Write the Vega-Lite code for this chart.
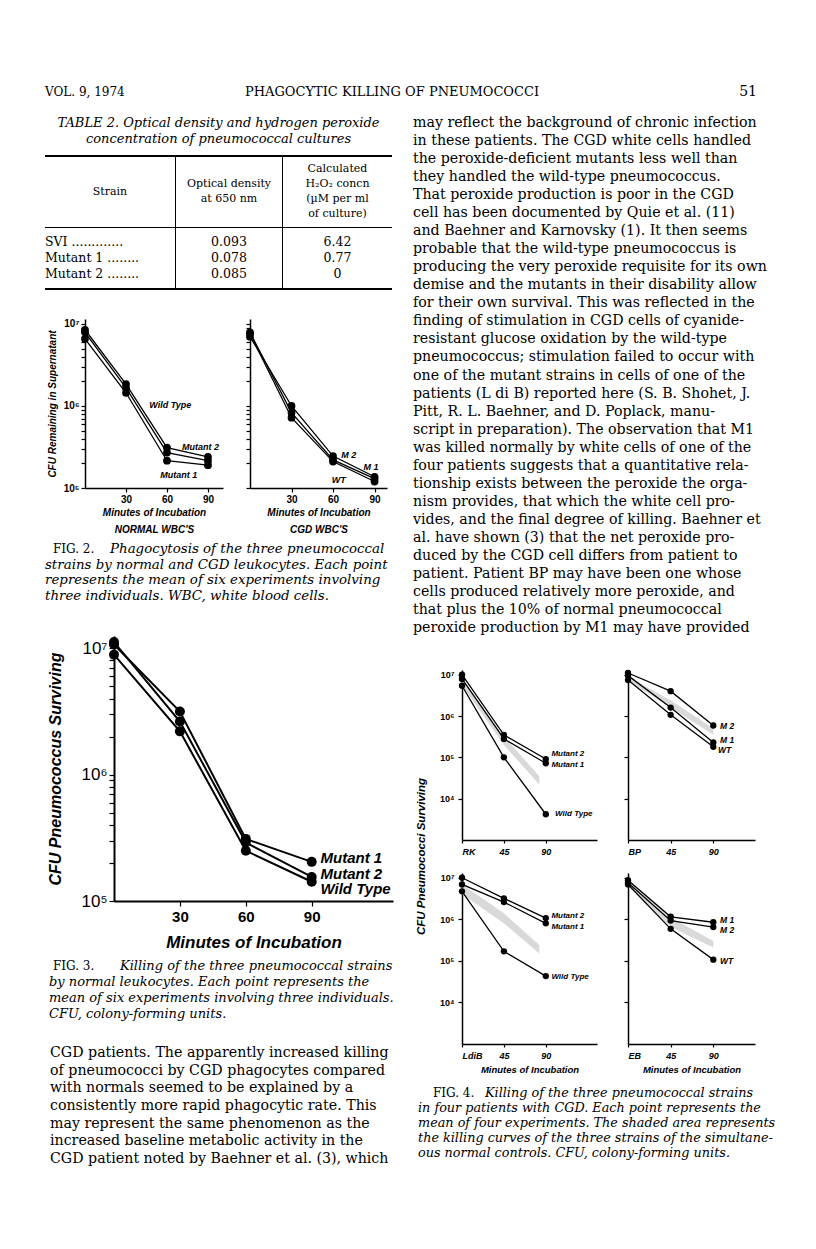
{
"$schema": "https://vega.github.io/schema/vega-lite/v6.json",
"padding": 0,
"background": "white",
"data": {"values": [{}]},
"config": {
  "view": {"stroke": null},
  "concat": {"spacing": 0},
  "axis": {"domainColor": "black", "tickColor": "black", "labelColor": "black", "titleColor": "black", "grid": false, "labelFont": "Liberation Sans", "titleFont": "Liberation Sans", "labelFontWeight": "bold", "titleFontWeight": "bold", "titleFontStyle": "italic", "domainWidth": 1.5, "tickWidth": 1.2, "labelFlush": false, "labelOverlap": false},
  "text": {"color": "black"}
},
"spacing": 0,
"vconcat": [
  {"hconcat": [
    {"width": 45, "height": 100, "data": {"values": []}, "mark": "point"},
    {"width": 200, "height": 96, "mark": {"type": "text", "text": "VOL. 9, 1974", "x": 0, "y": "height", "align": "left", "baseline": "alphabetic", "font": "DejaVu Serif", "fontSize": 12}},
    {"width": 168, "height": 96, "mark": {"type": "text", "text": "PHAGOCYTIC KILLING OF PNEUMOCOCCI", "x": 0, "y": "height", "align": "left", "baseline": "alphabetic", "font": "DejaVu Serif", "fontSize": 13}},
    {"width": 344, "height": 96, "mark": {"type": "text", "text": "51", "x": "width", "y": "height", "align": "right", "baseline": "alphabetic", "font": "DejaVu Serif", "fontSize": 14}}
  ], "spacing": 0, "bounds": "flush"},
  {"hconcat": [
    {"vconcat": [
      {"width": 413, "height": 15, "data": {"values": []}, "mark": "point"},
      {"hconcat": [
        {"width": 45, "height": 32, "data": {"values": []}, "mark": "point"},
        {"width": 347, "height": 32, "data": {"values": [{"i": 1, "s": "TABLE 2. Optical density and hydrogen peroxide"}, {"i": 2, "s": "concentration of pneumococcal cultures"}]},
         "mark": {"type": "text", "baseline": "middle", "align": "center", "font": "DejaVu Serif", "fontStyle": "italic", "fontSize": 13},
         "encoding": {"y": {"field": "i", "type": "ordinal", "axis": null, "scale": {"type": "point", "padding": 0.5}}, "text": {"field": "s"}}},
        {"width": 21, "height": 32, "data": {"values": []}, "mark": "point"}
      ], "spacing": 0, "bounds": "flush"},
      {"width": 413, "height": 8, "data": {"values": []}, "mark": "point"},
      {"hconcat": [
        {"width": 45, "height": 2, "data": {"values": []}, "mark": "point"},
        {"width": 347, "height": 2, "data": {"values": []}, "mark": "point", "view": {"fill": "black", "stroke": null}},
        {"width": 21, "height": 2, "data": {"values": []}, "mark": "point"}
      ], "spacing": 0, "bounds": "flush"},
      {"hconcat": [
        {"width": 45, "height": 70, "data": {"values": []}, "mark": "point"},
        {"width": 130, "height": 70, "mark": {"type": "text", "text": "Strain", "baseline": "middle", "align": "center", "font": "DejaVu Serif", "fontSize": 11}},
        {"width": 1, "height": 70, "data": {"values": []}, "mark": "point", "view": {"fill": "black", "stroke": null}},
        {"width": 106, "height": 70, "data": {"values": [{"i": 1, "s": "Optical density"}, {"i": 2, "s": "at 650 nm"}]},
         "mark": {"type": "text", "baseline": "middle", "align": "center", "font": "DejaVu Serif", "fontSize": 11},
         "encoding": {"y": {"field": "i", "type": "quantitative", "axis": null, "scale": {"domain": [-0.8, 3.87], "reverse": true, "nice": false, "zero": false}}, "text": {"field": "s"}}},
        {"width": 1, "height": 70, "data": {"values": []}, "mark": "point", "view": {"fill": "black", "stroke": null}},
        {"width": 109, "height": 70, "data": {"values": [{"i": 0, "s": "Calculated"}, {"i": 1, "s": "H₂O₂ concn"}, {"i": 2, "s": "(µM per ml"}, {"i": 3, "s": "of culture)"}]},
         "mark": {"type": "text", "baseline": "middle", "align": "center", "font": "DejaVu Serif", "fontSize": 11},
         "encoding": {"y": {"field": "i", "type": "quantitative", "axis": null, "scale": {"domain": [-0.8, 3.87], "reverse": true, "nice": false, "zero": false}}, "text": {"field": "s"}}},
        {"width": 21, "height": 70, "data": {"values": []}, "mark": "point"}
      ], "spacing": 0, "bounds": "flush"},
      {"hconcat": [
        {"width": 45, "height": 1, "data": {"values": []}, "mark": "point"},
        {"width": 347, "height": 1, "data": {"values": []}, "mark": "point", "view": {"fill": "black", "stroke": null}},
        {"width": 21, "height": 1, "data": {"values": []}, "mark": "point"}
      ], "spacing": 0, "bounds": "flush"},
      {"hconcat": [
        {"width": 45, "height": 60, "data": {"values": []}, "mark": "point"},
        {"width": 130, "height": 60, "data": {"values": [{"i": 1, "s": "SVI ............."}, {"i": 2, "s": "Mutant 1 ........"}, {"i": 3, "s": "Mutant 2 ........"}]},
         "mark": {"type": "text", "baseline": "middle", "align": "left", "x": 0, "font": "DejaVu Serif", "fontSize": 12.5},
         "encoding": {"y": {"field": "i", "type": "ordinal", "axis": null, "scale": {"type": "point", "padding": 0.9}}, "text": {"field": "s"}}},
        {"width": 1, "height": 60, "data": {"values": []}, "mark": "point", "view": {"fill": "black", "stroke": null}},
        {"width": 106, "height": 60, "data": {"values": [{"i": 1, "s": "0.093"}, {"i": 2, "s": "0.078"}, {"i": 3, "s": "0.085"}]},
         "mark": {"type": "text", "baseline": "middle", "align": "center", "font": "DejaVu Serif", "fontSize": 12.5},
         "encoding": {"y": {"field": "i", "type": "ordinal", "axis": null, "scale": {"type": "point", "padding": 0.9}}, "text": {"field": "s"}}},
        {"width": 1, "height": 60, "data": {"values": []}, "mark": "point", "view": {"fill": "black", "stroke": null}},
        {"width": 109, "height": 60, "data": {"values": [{"i": 1, "s": "6.42"}, {"i": 2, "s": "0.77"}, {"i": 3, "s": "0"}]},
         "mark": {"type": "text", "baseline": "middle", "align": "center", "font": "DejaVu Serif", "fontSize": 12.5},
         "encoding": {"y": {"field": "i", "type": "ordinal", "axis": null, "scale": {"type": "point", "padding": 0.9}}, "text": {"field": "s"}}},
        {"width": 21, "height": 60, "data": {"values": []}, "mark": "point"}
      ], "spacing": 0, "bounds": "flush"},
      {"hconcat": [
        {"width": 45, "height": 2, "data": {"values": []}, "mark": "point"},
        {"width": 347, "height": 2, "data": {"values": []}, "mark": "point", "view": {"fill": "black", "stroke": null}},
        {"width": 21, "height": 2, "data": {"values": []}, "mark": "point"}
      ], "spacing": 0, "bounds": "flush"},
      {"width": 413, "height": 28, "data": {"values": []}, "mark": "point"},
      {"hconcat": [
        {"width": 85, "height": 222, "data": {"values": []}, "mark": "point"},
        {"width": 138, "height": 169,
         "data": {"values": [
           {"s": "Mutant 2", "t": 0, "v": 8500000}, {"s": "Mutant 2", "t": 30, "v": 1850000}, {"s": "Mutant 2", "t": 60, "v": 310000}, {"s": "Mutant 2", "t": 90, "v": 240000},
           {"s": "Wild Type", "t": 0, "v": 7900000}, {"s": "Wild Type", "t": 30, "v": 1660000}, {"s": "Wild Type", "t": 60, "v": 270000}, {"s": "Wild Type", "t": 90, "v": 215000},
           {"s": "Mutant 1", "t": 0, "v": 6600000}, {"s": "Mutant 1", "t": 30, "v": 1450000}, {"s": "Mutant 1", "t": 60, "v": 215000}, {"s": "Mutant 1", "t": 90, "v": 190000}
         ]},
         "encoding": {
           "x": {"field": "t", "type": "quantitative", "scale": {"domain": [0, 101], "nice": false}, "axis": {"values": [30, 60, 90], "title": ["Minutes of Incubation", "NORMAL WBC'S"], "labelFontSize": 10, "tickSize": 4, "labelPadding": 2, "titleFontSize": 10, "titleLineHeight": 17, "titlePadding": 3}},
           "y": {"field": "v", "type": "quantitative", "scale": {"type": "log", "domain": [100000, 11500000], "nice": false}, "axis": {"values": [100000, 200000, 300000, 400000, 500000, 600000, 700000, 800000, 900000, 1000000, 2000000, 3000000, 4000000, 5000000, 6000000, 7000000, 8000000, 9000000, 10000000], "labelExpr": "datum.value == 10000000 ? '10⁷' : datum.value == 1000000 ? '10⁶' : datum.value == 100000 ? '10⁵' : ''", "title": "CFU Remaining in Supernatant", "labelFontSize": 10, "tickSize": 4, "labelPadding": 2, "titleFontSize": 10, "titlePadding": 6}}
         },
         "layer": [
           {"mark": {"type": "line", "color": "black", "strokeWidth": 1.3}, "encoding": {"detail": {"field": "s"}}},
           {"mark": {"type": "circle", "color": "black", "size": 60, "opacity": 1}},
           {"data": {"values": [{"t": 47, "v": 1030000, "lab": "Wild Type"}, {"t": 71, "v": 320000, "lab": "Mutant 2"}, {"t": 55, "v": 145000, "lab": "Mutant 1"}]},
            "mark": {"type": "text", "align": "left", "baseline": "middle", "font": "Liberation Sans", "fontStyle": "italic", "fontWeight": "bold", "fontSize": 9}, "encoding": {"text": {"field": "lab"}}}
         ]},
        {"width": 27, "height": 169, "data": {"values": []}, "mark": "point"},
        {"width": 137, "height": 169,
         "data": {"values": [
           {"s": "M2", "t": 0, "v": 7000000}, {"s": "M2", "t": 30, "v": 1000000}, {"s": "M2", "t": 60, "v": 245000}, {"s": "M2", "t": 90, "v": 137000},
           {"s": "M1", "t": 0, "v": 7900000}, {"s": "M1", "t": 30, "v": 830000}, {"s": "M1", "t": 60, "v": 220000}, {"s": "M1", "t": 90, "v": 130000},
           {"s": "WT", "t": 0, "v": 7600000}, {"s": "WT", "t": 30, "v": 720000}, {"s": "WT", "t": 60, "v": 210000}, {"s": "WT", "t": 90, "v": 120000}
         ]},
         "encoding": {
           "x": {"field": "t", "type": "quantitative", "scale": {"domain": [0, 99], "nice": false}, "axis": {"values": [30, 60, 90], "title": ["Minutes of Incubation", "CGD WBC'S"], "labelFontSize": 10, "tickSize": 4, "labelPadding": 2, "titleFontSize": 10, "titleLineHeight": 17, "titlePadding": 3}},
           "y": {"field": "v", "type": "quantitative", "scale": {"type": "log", "domain": [100000, 11500000], "nice": false}, "axis": {"values": [100000, 200000, 300000, 400000, 500000, 600000, 700000, 800000, 900000, 1000000, 2000000, 3000000, 4000000, 5000000, 6000000, 7000000, 8000000, 9000000, 10000000], "labels": false, "title": null, "tickSize": 4}}
         },
         "layer": [
           {"mark": {"type": "line", "color": "black", "strokeWidth": 1.3}, "encoding": {"detail": {"field": "s"}}},
           {"mark": {"type": "circle", "color": "black", "size": 60, "opacity": 1}},
           {"data": {"values": [{"t": 66, "v": 250000, "lab": "M 2"}, {"t": 82, "v": 180000, "lab": "M 1"}, {"t": 59, "v": 126000, "lab": "WT"}]},
            "mark": {"type": "text", "align": "left", "baseline": "middle", "font": "Liberation Sans", "fontStyle": "italic", "fontWeight": "bold", "fontSize": 9}, "encoding": {"text": {"field": "lab"}}}
         ]},
        {"width": 26, "height": 169, "data": {"values": []}, "mark": "point"}
      ], "spacing": 0, "bounds": "flush"},
      {"hconcat": [
        {"width": 45, "height": 63, "data": {"values": []}, "mark": "point"},
        {"width": 347, "height": 63,
         "data": {"values": [{"i": 1, "a": "FIG. 2.", "s": "Phagocytosis of the three pneumococcal"}, {"i": 2, "s": "strains by normal and CGD leukocytes. Each point"}, {"i": 3, "s": "represents the mean of six experiments involving"}, {"i": 4, "s": "three individuals. WBC, white blood cells."}]},
         "encoding": {"y": {"field": "i", "type": "ordinal", "axis": null, "scale": {"type": "point", "padding": 0.5}}},
         "layer": [
           {"transform": [{"filter": "datum.i > 1"}], "mark": {"type": "text", "align": "left", "baseline": "middle", "x": 0, "font": "DejaVu Serif", "fontStyle": "italic", "fontSize": 13.4}, "encoding": {"text": {"field": "s"}}},
           {"transform": [{"filter": "datum.i == 1"}], "mark": {"type": "text", "align": "left", "baseline": "middle", "x": 0, "dx": 65, "font": "DejaVu Serif", "fontStyle": "italic", "fontSize": 13.4}, "encoding": {"text": {"field": "s"}}},
           {"transform": [{"filter": "datum.i == 1"}], "mark": {"type": "text", "align": "left", "baseline": "middle", "x": 0, "dx": 8, "font": "DejaVu Serif", "fontSize": 12}, "encoding": {"text": {"field": "a"}}}
         ]},
        {"width": 21, "height": 63, "data": {"values": []}, "mark": "point"}
      ], "spacing": 0, "bounds": "flush"},
      {"width": 413, "height": 32, "data": {"values": []}, "mark": "point"},
      {"hconcat": [
        {"width": 114, "height": 322, "data": {"values": []}, "mark": "point"},
        {"width": 279, "height": 265,
         "data": {"values": [
           {"s": "Mutant 1", "t": 0, "v": 10700000}, {"s": "Mutant 1", "t": 30, "v": 3160000}, {"s": "Mutant 1", "t": 60, "v": 310000}, {"s": "Mutant 1", "t": 90, "v": 204000},
           {"s": "Mutant 2", "t": 0, "v": 11200000}, {"s": "Mutant 2", "t": 30, "v": 2630000}, {"s": "Mutant 2", "t": 60, "v": 290000}, {"s": "Mutant 2", "t": 90, "v": 155000},
           {"s": "Wild Type", "t": 0, "v": 8900000}, {"s": "Wild Type", "t": 30, "v": 2200000}, {"s": "Wild Type", "t": 60, "v": 250000}, {"s": "Wild Type", "t": 90, "v": 142000}
         ]},
         "encoding": {
           "x": {"field": "t", "type": "quantitative", "scale": {"domain": [0, 127], "nice": false}, "axis": {"values": [30, 60, 90], "title": "Minutes of Incubation", "labelFontSize": 15, "tickSize": 5, "labelPadding": 3, "titleFontSize": 17, "titlePadding": 10, "domainWidth": 2}},
           "y": {"field": "v", "type": "quantitative", "scale": {"type": "log", "domain": [100000, 12500000], "nice": false}, "axis": {"values": [100000, 200000, 300000, 400000, 500000, 600000, 700000, 800000, 900000, 1000000, 2000000, 3000000, 4000000, 5000000, 6000000, 7000000, 8000000, 9000000, 10000000], "labelExpr": "datum.value == 10000000 ? '10⁷' : datum.value == 1000000 ? '10⁶' : datum.value == 100000 ? '10⁵' : ''", "title": "CFU Pneumococcus Surviving", "labelFontSize": 17, "labelFontWeight": "normal", "tickSize": 5, "labelPadding": 2, "titleFontSize": 16, "titlePadding": 18, "domainWidth": 2}}
         },
         "layer": [
           {"mark": {"type": "line", "color": "black", "strokeWidth": 2}, "encoding": {"detail": {"field": "s"}}},
           {"mark": {"type": "circle", "color": "black", "size": 100, "opacity": 1}},
           {"data": {"values": [{"t": 94, "v": 220000, "lab": "Mutant 1"}, {"t": 94, "v": 163000, "lab": "Mutant 2"}, {"t": 94, "v": 124000, "lab": "Wild Type"}]},
            "mark": {"type": "text", "align": "left", "baseline": "middle", "font": "Liberation Sans", "fontStyle": "italic", "fontWeight": "bold", "fontSize": 15}, "encoding": {"text": {"field": "lab"}}}
         ]},
        {"width": 20, "height": 265, "data": {"values": []}, "mark": "point"}
      ], "spacing": 0, "bounds": "flush"},
      {"hconcat": [
        {"width": 49, "height": 64, "data": {"values": []}, "mark": "point"},
        {"width": 343, "height": 64,
         "data": {"values": [{"i": 1, "a": "FIG. 3.", "s": "Killing of the three pneumococcal strains"}, {"i": 2, "s": "by normal leukocytes. Each point represents the"}, {"i": 3, "s": "mean of six experiments involving three individuals."}, {"i": 4, "s": "CFU, colony-forming units."}]},
         "encoding": {"y": {"field": "i", "type": "ordinal", "axis": null, "scale": {"type": "point", "padding": 0.5}}},
         "layer": [
           {"transform": [{"filter": "datum.i > 1"}], "mark": {"type": "text", "align": "left", "baseline": "middle", "x": 0, "font": "DejaVu Serif", "fontStyle": "italic", "fontSize": 13}, "encoding": {"text": {"field": "s"}}},
           {"transform": [{"filter": "datum.i == 1"}], "mark": {"type": "text", "align": "left", "baseline": "middle", "x": 0, "dx": 71, "font": "DejaVu Serif", "fontStyle": "italic", "fontSize": 13}, "encoding": {"text": {"field": "s"}}},
           {"transform": [{"filter": "datum.i == 1"}], "mark": {"type": "text", "align": "left", "baseline": "middle", "x": 0, "dx": 4, "font": "DejaVu Serif", "fontSize": 12}, "encoding": {"text": {"field": "a"}}}
         ]},
        {"width": 21, "height": 64, "data": {"values": []}, "mark": "point"}
      ], "spacing": 0, "bounds": "flush"},
      {"width": 413, "height": 22, "data": {"values": []}, "mark": "point"},
      {"hconcat": [
        {"width": 50, "height": 124, "data": {"values": []}, "mark": "point"},
        {"width": 343, "height": 124,
         "data": {"values": [
           {"i": 1, "s": "CGD patients. The apparently increased killing"},
           {"i": 2, "s": "of pneumococci by CGD phagocytes compared"},
           {"i": 3, "s": "with normals seemed to be explained by a"},
           {"i": 4, "s": "consistently more rapid phagocytic rate. This"},
           {"i": 5, "s": "may represent the same phenomenon as the"},
           {"i": 6, "s": "increased baseline metabolic activity in the"},
           {"i": 7, "s": "CGD patient noted by Baehner et al. (3), which"}
         ]},
         "mark": {"type": "text", "align": "left", "baseline": "middle", "x": 0, "font": "DejaVu Serif", "fontSize": 14.2},
         "encoding": {"y": {"field": "i", "type": "ordinal", "axis": null, "scale": {"type": "point", "padding": 0.5}}, "text": {"field": "s"}}},
        {"width": 20, "height": 124, "data": {"values": []}, "mark": "point"}
      ], "spacing": 0, "bounds": "flush"}
    ], "spacing": 0},
    {"vconcat": [
      {"width": 345, "height": 14, "data": {"values": []}, "mark": "point"},
      {"width": 345, "height": 523,
       "data": {"values": [
         {"i": 1, "s": "may reflect the background of chronic infection"},
         {"i": 2, "s": "in these patients. The CGD white cells handled"},
         {"i": 3, "s": "the peroxide-deficient mutants less well than"},
         {"i": 4, "s": "they handled the wild-type pneumococcus."},
         {"i": 5, "s": "That peroxide production is poor in the CGD"},
         {"i": 6, "s": "cell has been documented by Quie et al. (11)"},
         {"i": 7, "s": "and Baehner and Karnovsky (1). It then seems"},
         {"i": 8, "s": "probable that the wild-type pneumococcus is"},
         {"i": 9, "s": "producing the very peroxide requisite for its own"},
         {"i": 10, "s": "demise and the mutants in their disability allow"},
         {"i": 11, "s": "for their own survival. This was reflected in the"},
         {"i": 12, "s": "finding of stimulation in CGD cells of cyanide-"},
         {"i": 13, "s": "resistant glucose oxidation by the wild-type"},
         {"i": 14, "s": "pneumococcus; stimulation failed to occur with"},
         {"i": 15, "s": "one of the mutant strains in cells of one of the"},
         {"i": 16, "s": "patients (L di B) reported here (S. B. Shohet, J."},
         {"i": 17, "s": "Pitt, R. L. Baehner, and D. Poplack, manu-"},
         {"i": 18, "s": "script in preparation). The observation that M1"},
         {"i": 19, "s": "was killed normally by white cells of one of the"},
         {"i": 20, "s": "four patients suggests that a quantitative rela-"},
         {"i": 21, "s": "tionship exists between the peroxide the orga-"},
         {"i": 22, "s": "nism provides, that which the white cell pro-"},
         {"i": 23, "s": "vides, and the final degree of killing. Baehner et"},
         {"i": 24, "s": "al. have shown (3) that the net peroxide pro-"},
         {"i": 25, "s": "duced by the CGD cell differs from patient to"},
         {"i": 26, "s": "patient. Patient BP may have been one whose"},
         {"i": 27, "s": "cells produced relatively more peroxide, and"},
         {"i": 28, "s": "that plus the 10% of normal pneumococcal"},
         {"i": 29, "s": "peroxide production by M1 may have provided"}
       ]},
       "mark": {"type": "text", "align": "left", "baseline": "middle", "x": 0, "font": "DejaVu Serif", "fontSize": 14.2},
       "encoding": {"y": {"field": "i", "type": "ordinal", "axis": null, "scale": {"type": "point", "padding": 0.5}}, "text": {"field": "s"}}},
      {"width": 345, "height": 32, "data": {"values": []}, "mark": "point"},
      {"concat": [
        {"width": 18, "height": 170, "data": {"values": []}, "mark": "point"},
        {"width": 31, "height": 170, "data": {"values": []}, "mark": "point"},
        {"width": 135, "height": 170,
         "data": {"values": [
           {"s": "M2", "t": 0, "v": 10000000}, {"s": "M2", "t": 45, "v": 350000}, {"s": "M2", "t": 90, "v": 91000},
           {"s": "M1", "t": 0, "v": 7900000}, {"s": "M1", "t": 45, "v": 280000}, {"s": "M1", "t": 90, "v": 72000},
           {"s": "WT", "t": 0, "v": 5400000}, {"s": "WT", "t": 45, "v": 100000}, {"s": "WT", "t": 90, "v": 4200}
         ]},
         "encoding": {
           "x": {"field": "t", "type": "quantitative", "scale": {"domain": [0, 145], "nice": false}, "axis": {"values": [0, 45, 90], "labelExpr": "datum.value == 0 ? 'RK' : datum.label", "labelAlign": {"condition": {"test": "datum.value == 0", "value": "left"}, "value": "center"}, "title": null, "labelFontSize": 9, "labelFontStyle": "italic", "tickSize": 3, "labelPadding": 4}},
           "y": {"field": "v", "type": "quantitative", "scale": {"type": "log", "domain": [1000, 13000000], "nice": false}, "axis": {"values": [10000, 100000, 1000000, 10000000], "labelExpr": "datum.value == 10000000 ? '10⁷' : datum.value == 1000000 ? '10⁶' : datum.value == 100000 ? '10⁵' : datum.value == 10000 ? '10⁴' : ''", "title": null, "labelFontSize": 9, "tickSize": 4, "labelPadding": 4}}
         },
         "layer": [
           {"data": {"values": [{"t": 0, "lo": 5500000, "hi": 8500000}, {"t": 45, "lo": 200000, "hi": 320000}, {"t": 83, "lo": 22000, "hi": 35000}]},
            "mark": {"type": "area", "color": "#cccccc", "opacity": 0.75}, "encoding": {"y": {"field": "lo", "type": "quantitative", "title": null}, "y2": {"field": "hi"}}},
           {"mark": {"type": "line", "color": "black", "strokeWidth": 1.3}, "encoding": {"detail": {"field": "s"}}},
           {"mark": {"type": "circle", "color": "black", "size": 40, "opacity": 1}},
           {"data": {"values": [{"t": 96, "v": 120000, "lab": "Mutant 2"}, {"t": 96, "v": 65000, "lab": "Mutant 1"}, {"t": 100, "v": 4300, "lab": "Wild Type"}]},
            "mark": {"type": "text", "align": "left", "baseline": "middle", "font": "Liberation Sans", "fontStyle": "italic", "fontWeight": "bold", "fontSize": 8}, "encoding": {"text": {"field": "lab"}}}
         ]},
        {"width": 31, "height": 170, "data": {"values": []}, "mark": "point"},
        {"width": 127, "height": 170,
         "data": {"values": [
           {"s": "M2", "t": 0, "v": 11000000}, {"s": "M2", "t": 45, "v": 4000000}, {"s": "M2", "t": 90, "v": 590000},
           {"s": "M1", "t": 0, "v": 9500000}, {"s": "M1", "t": 45, "v": 1600000}, {"s": "M1", "t": 90, "v": 230000},
           {"s": "WT", "t": 0, "v": 7400000}, {"s": "WT", "t": 45, "v": 1070000}, {"s": "WT", "t": 90, "v": 180000}
         ]},
         "encoding": {
           "x": {"field": "t", "type": "quantitative", "scale": {"domain": [0, 134], "nice": false}, "axis": {"values": [0, 45, 90], "labelExpr": "datum.value == 0 ? 'BP' : datum.label", "labelAlign": {"condition": {"test": "datum.value == 0", "value": "left"}, "value": "center"}, "title": null, "labelFontSize": 9, "labelFontStyle": "italic", "tickSize": 3, "labelPadding": 4}},
           "y": {"field": "v", "type": "quantitative", "scale": {"type": "log", "domain": [1000, 13000000], "nice": false}, "axis": {"values": [10000, 100000, 1000000, 10000000], "labels": false, "title": null, "tickSize": 4}}
         },
         "layer": [
           {"data": {"values": [{"t": 0, "lo": 7000000, "hi": 9000000}, {"t": 45, "lo": 1600000, "hi": 2400000}, {"t": 90, "lo": 350000, "hi": 500000}]},
            "mark": {"type": "area", "color": "#cccccc", "opacity": 0.75}, "encoding": {"y": {"field": "lo", "type": "quantitative", "title": null}, "y2": {"field": "hi"}}},
           {"mark": {"type": "line", "color": "black", "strokeWidth": 1.3}, "encoding": {"detail": {"field": "s"}}},
           {"mark": {"type": "circle", "color": "black", "size": 40, "opacity": 1}},
           {"data": {"values": [{"t": 97, "v": 590000, "lab": "M 2"}, {"t": 97, "v": 260000, "lab": "M 1"}, {"t": 95, "v": 150000, "lab": "WT"}]},
            "mark": {"type": "text", "align": "left", "baseline": "middle", "font": "Liberation Sans", "fontStyle": "italic", "fontWeight": "bold", "fontSize": 8.5}, "encoding": {"text": {"field": "lab"}}}
         ]},
        {"width": 18, "height": 33, "mark": {"type": "text", "text": "CFU Pneumococci Surviving", "angle": 270, "align": "center", "baseline": "middle", "font": "Liberation Sans", "fontStyle": "italic", "fontWeight": "bold", "fontSize": 11.5}},
        {"width": 31, "height": 33, "data": {"values": []}, "mark": "point"},
        {"width": 135, "height": 33, "data": {"values": []}, "mark": "point"},
        {"width": 31, "height": 33, "data": {"values": []}, "mark": "point"},
        {"width": 127, "height": 33, "data": {"values": []}, "mark": "point"},
        {"width": 18, "height": 171, "data": {"values": []}, "mark": "point"},
        {"width": 31, "height": 171, "data": {"values": []}, "mark": "point"},
        {"width": 135, "height": 171,
         "data": {"values": [
           {"s": "M2", "t": 0, "v": 10000000}, {"s": "M2", "t": 45, "v": 3200000}, {"s": "M2", "t": 90, "v": 1070000},
           {"s": "M1", "t": 0, "v": 6900000}, {"s": "M1", "t": 45, "v": 2600000}, {"s": "M1", "t": 90, "v": 800000},
           {"s": "WT", "t": 0, "v": 4700000}, {"s": "WT", "t": 45, "v": 170000}, {"s": "WT", "t": 90, "v": 43000}
         ]},
         "encoding": {
           "x": {"field": "t", "type": "quantitative", "scale": {"domain": [0, 145], "nice": false}, "axis": {"values": [0, 45, 90], "labelExpr": "datum.value == 0 ? 'LdiB' : datum.label", "labelAlign": {"condition": {"test": "datum.value == 0", "value": "left"}, "value": "center"}, "title": "Minutes of Incubation", "labelFontSize": 9, "labelFontStyle": "italic", "tickSize": 3, "labelPadding": 4, "titleFontSize": 9.5, "titlePadding": 4}},
           "y": {"field": "v", "type": "quantitative", "scale": {"type": "log", "domain": [1000, 13000000], "nice": false}, "axis": {"values": [10000, 100000, 1000000, 10000000], "labelExpr": "datum.value == 10000000 ? '10⁷' : datum.value == 1000000 ? '10⁶' : datum.value == 100000 ? '10⁵' : datum.value == 10000 ? '10⁴' : ''", "title": null, "labelFontSize": 9, "tickSize": 4, "labelPadding": 4}}
         },
         "layer": [
           {"data": {"values": [{"t": 0, "lo": 4000000, "hi": 7000000}, {"t": 45, "lo": 800000, "hi": 1400000}, {"t": 83, "lo": 150000, "hi": 240000}]},
            "mark": {"type": "area", "color": "#cccccc", "opacity": 0.75}, "encoding": {"y": {"field": "lo", "type": "quantitative", "title": null}, "y2": {"field": "hi"}}},
           {"mark": {"type": "line", "color": "black", "strokeWidth": 1.3}, "encoding": {"detail": {"field": "s"}}},
           {"mark": {"type": "circle", "color": "black", "size": 40, "opacity": 1}},
           {"data": {"values": [{"t": 96, "v": 1170000, "lab": "Mutant 2"}, {"t": 96, "v": 650000, "lab": "Mutant 1"}, {"t": 96, "v": 42000, "lab": "Wild Type"}]},
            "mark": {"type": "text", "align": "left", "baseline": "middle", "font": "Liberation Sans", "fontStyle": "italic", "fontWeight": "bold", "fontSize": 8}, "encoding": {"text": {"field": "lab"}}}
         ]},
        {"width": 31, "height": 171, "data": {"values": []}, "mark": "point"},
        {"width": 127, "height": 171,
         "data": {"values": [
           {"s": "M1", "t": 0, "v": 8700000}, {"s": "M1", "t": 45, "v": 1150000}, {"s": "M1", "t": 90, "v": 850000},
           {"s": "M2", "t": 0, "v": 7600000}, {"s": "M2", "t": 45, "v": 930000}, {"s": "M2", "t": 90, "v": 650000},
           {"s": "WT", "t": 0, "v": 6900000}, {"s": "WT", "t": 45, "v": 590000}, {"s": "WT", "t": 90, "v": 107000}
         ]},
         "encoding": {
           "x": {"field": "t", "type": "quantitative", "scale": {"domain": [0, 134], "nice": false}, "axis": {"values": [0, 45, 90], "labelExpr": "datum.value == 0 ? 'EB' : datum.label", "labelAlign": {"condition": {"test": "datum.value == 0", "value": "left"}, "value": "center"}, "title": "Minutes of Incubation", "labelFontSize": 9, "labelFontStyle": "italic", "tickSize": 3, "labelPadding": 4, "titleFontSize": 9.5, "titlePadding": 4}},
           "y": {"field": "v", "type": "quantitative", "scale": {"type": "log", "domain": [1000, 13000000], "nice": false}, "axis": {"values": [10000, 100000, 1000000, 10000000], "labels": false, "title": null, "tickSize": 4}}
         },
         "layer": [
           {"data": {"values": [{"t": 0, "lo": 6500000, "hi": 8500000}, {"t": 45, "lo": 650000, "hi": 1100000}, {"t": 90, "lo": 210000, "hi": 300000}]},
            "mark": {"type": "area", "color": "#cccccc", "opacity": 0.75}, "encoding": {"y": {"field": "lo", "type": "quantitative", "title": null}, "y2": {"field": "hi"}}},
           {"mark": {"type": "line", "color": "black", "strokeWidth": 1.3}, "encoding": {"detail": {"field": "s"}}},
           {"mark": {"type": "circle", "color": "black", "size": 40, "opacity": 1}},
           {"data": {"values": [{"t": 97, "v": 980000, "lab": "M 1"}, {"t": 97, "v": 560000, "lab": "M 2"}, {"t": 97, "v": 100000, "lab": "WT"}]},
            "mark": {"type": "text", "align": "left", "baseline": "middle", "font": "Liberation Sans", "fontStyle": "italic", "fontWeight": "bold", "fontSize": 8.5}, "encoding": {"text": {"field": "lab"}}}
         ]},
        {"width": 18, "height": 41, "data": {"values": []}, "mark": "point"},
        {"width": 31, "height": 41, "data": {"values": []}, "mark": "point"},
        {"width": 135, "height": 41, "data": {"values": []}, "mark": "point"},
        {"width": 31, "height": 41, "data": {"values": []}, "mark": "point"},
        {"width": 127, "height": 41, "data": {"values": []}, "mark": "point"}
      ], "columns": 5, "align": "each", "spacing": 0, "bounds": "flush"},
      {"hconcat": [
        {"width": 5, "height": 76, "data": {"values": []}, "mark": "point"},
        {"width": 345, "height": 76,
         "data": {"values": [{"i": 1, "a": "FIG. 4.", "s": "Killing of the three pneumococcal strains"}, {"i": 2, "s": "in four patients with CGD. Each point represents the"}, {"i": 3, "s": "mean of four experiments. The shaded area represents"}, {"i": 4, "s": "the killing curves of the three strains of the simultane-"}, {"i": 5, "s": "ous normal controls. CFU, colony-forming units."}]},
         "encoding": {"y": {"field": "i", "type": "ordinal", "axis": null, "scale": {"type": "point", "padding": 0.5}}},
         "layer": [
           {"transform": [{"filter": "datum.i > 1"}], "mark": {"type": "text", "align": "left", "baseline": "middle", "x": 0, "font": "DejaVu Serif", "fontStyle": "italic", "fontSize": 12.8}, "encoding": {"text": {"field": "s"}}},
           {"transform": [{"filter": "datum.i == 1"}], "mark": {"type": "text", "align": "left", "baseline": "middle", "x": 0, "dx": 67, "font": "DejaVu Serif", "fontStyle": "italic", "fontSize": 12.8}, "encoding": {"text": {"field": "s"}}},
           {"transform": [{"filter": "datum.i == 1"}], "mark": {"type": "text", "align": "left", "baseline": "middle", "x": 0, "dx": 15, "font": "DejaVu Serif", "fontSize": 12}, "encoding": {"text": {"field": "a"}}}
         ]}
      ], "spacing": 0, "bounds": "flush"}
    ], "spacing": 0}
  ], "spacing": 0}
]
}
